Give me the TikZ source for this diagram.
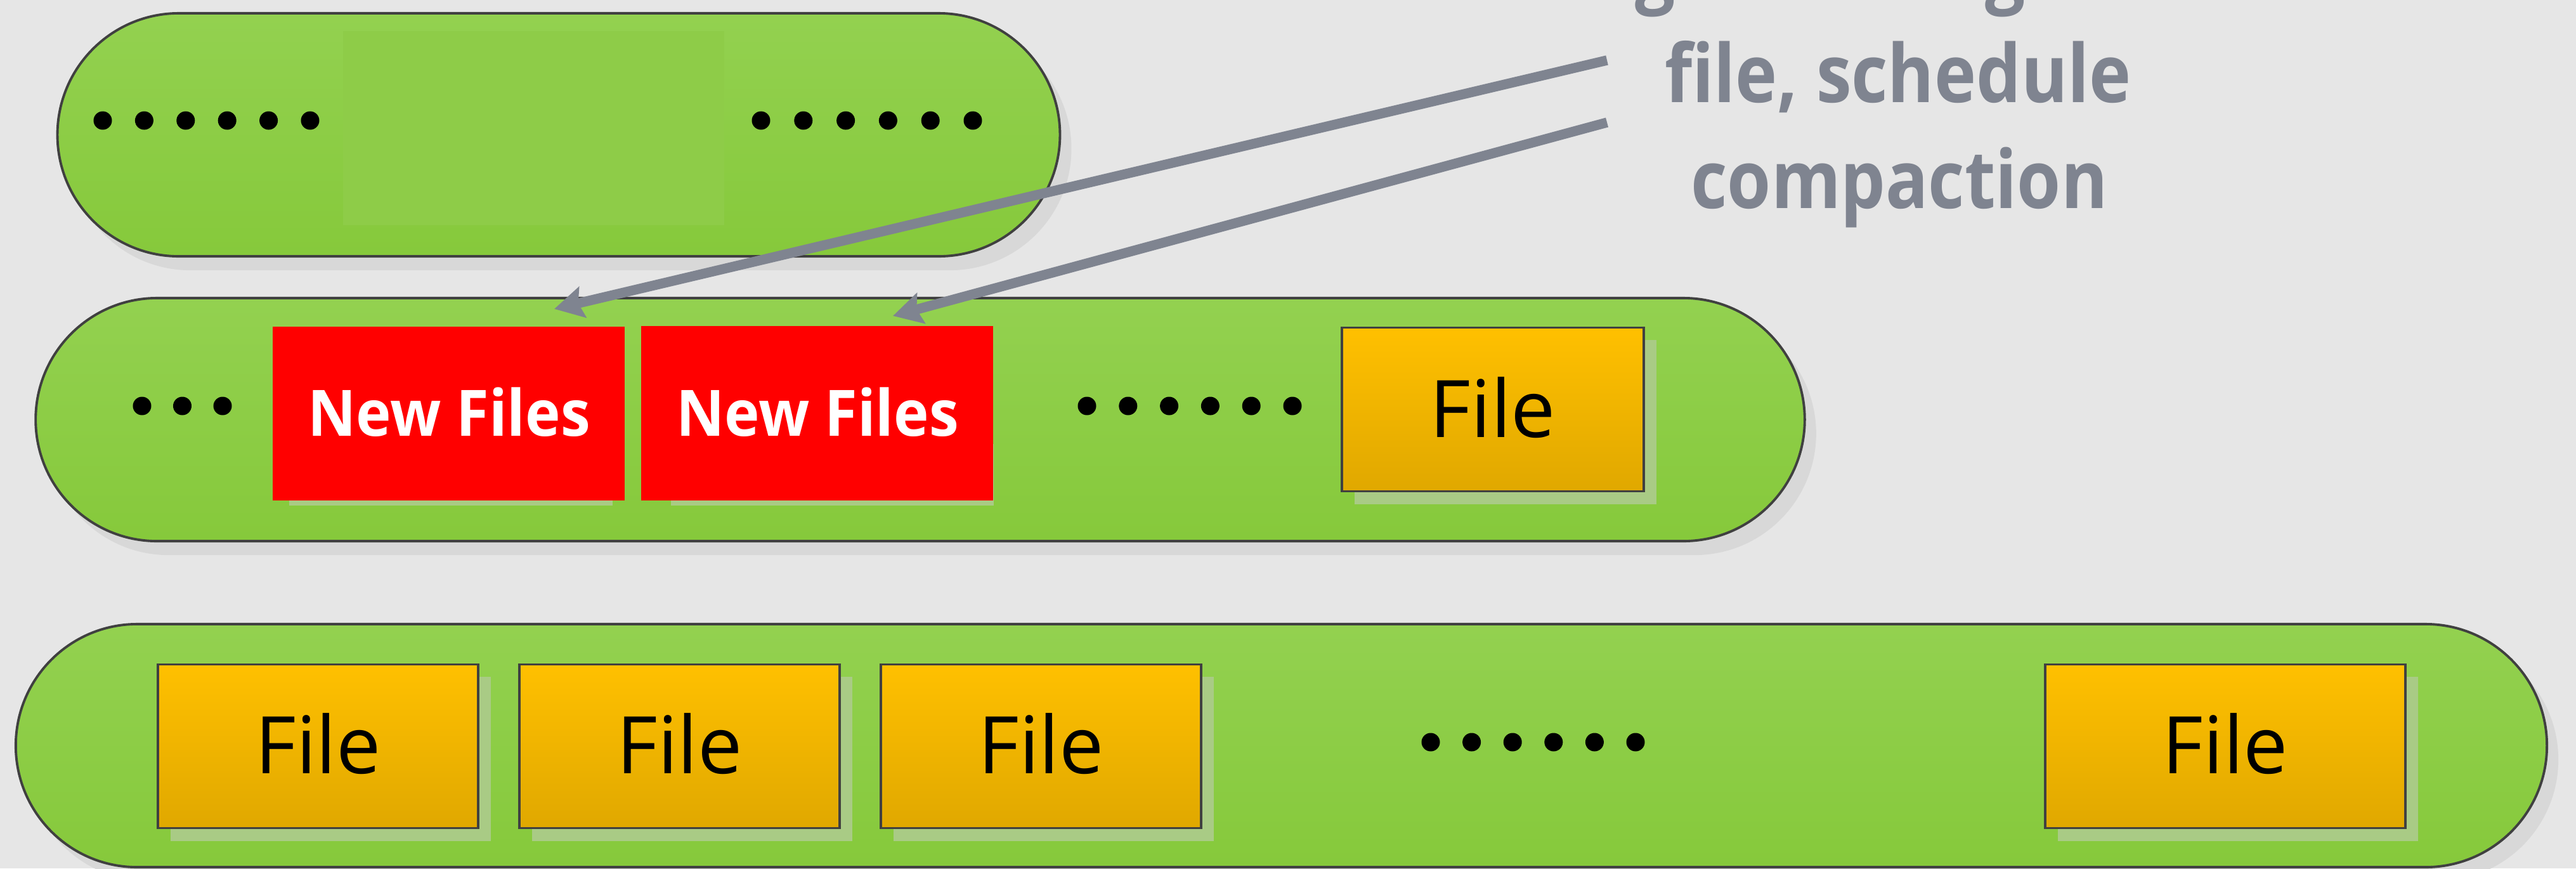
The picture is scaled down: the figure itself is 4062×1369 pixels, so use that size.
\documentclass[tikz,border=0pt]{standalone}
\usepackage{fontspec}
\setmainfont{Open Sans}
\usetikzlibrary{arrows.meta}
\definecolor{bg}{HTML}{E6E6E6}
\definecolor{pilltop}{HTML}{93D150}
\definecolor{pillbot}{HTML}{86C93B}
\definecolor{pillborder}{HTML}{404040}
\definecolor{pillsh}{HTML}{D8D8D8}
\definecolor{innerg}{HTML}{8ECC48}
\definecolor{ortop}{HTML}{FFC000}
\definecolor{orbot}{HTML}{E0A800}
\definecolor{fsh}{HTML}{A9CB85}
\definecolor{newred}{HTML}{FF0000}
\definecolor{arrgray}{HTML}{7F8490}
\begin{document}
\begin{tikzpicture}[x=0.01cm,y=-0.01cm,
  pill/.style={draw=pillborder, line width=1.1pt, rounded corners=1.915cm,
    top color=pilltop, bottom color=pillbot, minimum height=3.83cm, inner sep=0pt},
  pillshadow/.style={fill=pillsh, rounded corners=1.915cm, minimum height=3.83cm, inner sep=0pt},
  filebox/.style={draw=pillborder, line width=1pt, top color=ortop, bottom color=orbot,
    minimum height=2.58cm, inner sep=0pt},
  filetext/.style={font=\fontsize{35.6}{42}\selectfont, inner sep=0pt},
  fileshadow/.style={fill=fsh, minimum height=2.58cm, inner sep=0pt},
  newbox/.style={fill=newred, inner sep=0pt, minimum width=5.55cm, minimum height=2.74cm},
  newtext/.style={text=white, font=\bfseries\fontsize{28.7}{34}\selectfont, inner sep=0pt, xscale=0.93},
  dot/.style={fill=black},
  arr/.style={draw=arrgray, line width=4.4pt, -{Stealth[length=13pt,width=14pt,inset=2pt]}},
  note/.style={text=arrgray, font=\bfseries\fontsize{36.1}{44}\selectfont, anchor=base, inner sep=0pt, xscale=0.88}
]
\useasboundingbox (0,0) rectangle (4062,1369);
\fill[bg] (0,0) rectangle (4062,1369);

% pill shadows
\node[pillshadow, minimum width=15.80cm] (p1s) at (899,234.5) {};
\node[pillshadow, minimum width=27.88cm] (p2s) at (1469,683.5) {};
\node[pillshadow, minimum width=39.89cm] (p3s) at (2038.5,1197.5) {};

% pills
\node[pill, minimum width=15.80cm] (p1) at (881,212.5) {};
\node[pill, minimum width=27.88cm] (p2) at (1451,661.5) {};
\node[pill, minimum width=39.89cm] (p3) at (2020.5,1175.5) {};

% inner lighter block in top pill
\node[fill=innerg, inner sep=0pt, minimum width=6.01cm, minimum height=3.06cm] (inner) at (841.5,202) {};

% shadows of boxes
\fill[fsh] (456,700) rectangle (966,797);
\fill[fsh] (1058,700) rectangle (1567,797);
\node[fileshadow, minimum width=4.76cm] (f0s) at (2374,665.5) {};
\node[fileshadow, minimum width=5.05cm] (f1s) at (521.5,1196.5) {};
\node[fileshadow, minimum width=5.05cm] (f2s) at (1091.5,1196.5) {};
\node[fileshadow, minimum width=5.05cm] (f3s) at (1661.5,1196.5) {};
\node[fileshadow, minimum width=5.68cm] (f4s) at (3529,1196.5) {};

% red boxes
\node[newbox] (n1) at (707.5,652) {};
\node[newbox] (n2) at (1288.5,651.5) {};
\node[newtext, anchor=base] (n1t) at (708,687) {New Files};
\node[newtext, anchor=base] (n2t) at (1289,687) {New Files};

% file boxes
\node[filebox, minimum width=4.76cm] (f0) at (2354,645.5) {};
\node[filebox, minimum width=5.05cm] (f1) at (501.5,1176.5) {};
\node[filebox, minimum width=5.05cm] (f2) at (1071.5,1176.5) {};
\node[filebox, minimum width=5.05cm] (f3) at (1641.5,1176.5) {};
\node[filebox, minimum width=5.68cm] (f4) at (3509,1176.5) {};
\node[filetext, anchor=base] (f0t) at (2354,689) {File};
\node[filetext, anchor=base] (f1t) at (501.5,1219) {File};
\node[filetext, anchor=base] (f2t) at (1071.5,1219) {File};
\node[filetext, anchor=base] (f3t) at (1641.5,1219) {File};
\node[filetext, anchor=base] (f4t) at (3509,1219) {File};

% dots
\foreach \i in {0,...,5} {
  \fill[dot] (162+65.4*\i,190) circle[radius=0.145cm];
  \fill[dot] (1200+66.8*\i,190) circle[radius=0.145cm];
  \fill[dot] (1714+64.8*\i,640) circle[radius=0.145cm];
  \fill[dot] (2256+64.6*\i,1170) circle[radius=0.145cm];
}
\foreach \i in {0,1,2} {
  \fill[dot] (224+63.5*\i,640) circle[radius=0.145cm];
}

% arrows
\coordinate (a1s) at (2534,95);
\coordinate (a1e) at (874,487);
\coordinate (a2s) at (2534,193);
\coordinate (a2e) at (1408,498);
\draw[arr] (a1s) -- (a1e);
\draw[arr] (a2s) -- (a2e);

% note text
\node[note] (g1) at (2610,-4) {g};
\node[note] (g2) at (3162,-4) {g};
\node[note] (t1) at (2993,161) {file, schedule};
\node[note] (t2) at (2995,328) {compaction};
\end{tikzpicture}
\end{document}
